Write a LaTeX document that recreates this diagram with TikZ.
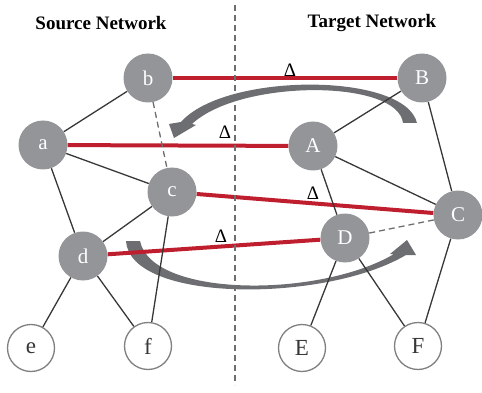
\documentclass[tikz,border=0pt]{standalone}
\usepackage{fontspec}
\setmainfont{Liberation Serif}
\usetikzlibrary{backgrounds}
\definecolor{nodegray}{RGB}{147,149,152}
\definecolor{arrowgray}{RGB}{109,110,113}
\definecolor{linkred}{RGB}{190,30,45}
\definecolor{edgeblack}{RGB}{55,55,55}
\definecolor{rimgray}{RGB}{128,128,128}

\begin{document}
\begin{tikzpicture}[x=1pt,y=-1pt,
inner/.style={circle, fill=nodegray, text=white, minimum size=49pt, inner sep=0pt,
    font=\fontsize{21}{21}\selectfont},
leaf/.style={circle, draw=rimgray, line width=1.3pt, fill=white, text=edgeblack,
    minimum size=47pt, inner sep=0pt, font=\fontsize{23}{23}\selectfont},
edge/.style={draw=edgeblack, line width=1.3pt},
weak/.style={draw=arrowgray, line width=1.3pt, dash pattern=on 6pt off 4pt},
match/.style={draw=linkred, line width=4pt},
delta/.style={font=\fontsize{19}{19}\selectfont, inner sep=0pt},
title/.style={font=\fontsize{19}{19}\selectfont\bfseries}]
\useasboundingbox (0,0) rectangle (482,393);

\node[title] (src) at (101,23) {Source Network};
\node[title] (tgt) at (372,23) {Target Network};
\coordinate (top) at (235,5);
\coordinate (bot) at (235,385);

\node[inner] (b) at (148,78) {b};
\node[inner] (a) at (43,145) {a};
\node[inner] (c) at (172,192) {c};
\node[inner] (d) at (83,256) {d};
\node[leaf] (e) at (31,348) {e};
\node[leaf] (f) at (148,346) {f};

\node[inner] (B) at (422,78) {B};
\node[inner] (A) at (313,146) {A};
\node[inner] (C) at (458,215) {C};
\node[inner] (D) at (345,238) {D};
\node[leaf] (E) at (302,348) {E};
\node[leaf] (F) at (418,346) {F};

\node[delta] (dB) at (290,70) {Δ};
\node[delta] (dA) at (225,132) {Δ};
\node[delta] (dC) at (313,193) {Δ};
\node[delta] (dD) at (221,236) {Δ};

\begin{scope}[on background layer]
\fill[arrowgray] (403,123) -- (417,123) .. controls (405,72) and (225,72) .. (181,122)
  -- (169,124) -- (174,138) -- (196,125) -- (192,124)
  .. controls (240,79) and (398,79) .. (403,123) -- cycle;
\fill[arrowgray] (126,241) -- (140,241) .. controls (152,298) and (320,298) .. (394,254)
  -- (390,254) -- (407,240) -- (416,255) -- (406,255)
  .. controls (325,303) and (130,303) .. (126,241) -- cycle;
\draw[match] (b) -- (B);
\draw[match] (a) -- (A);
\draw[match] (c) -- (C);
\draw[match] (d) -- (D);
\draw[weak] (top) -- (bot);
\draw[weak] (b) -- (c);
\draw[weak] (D) -- (C);
\draw[edge] (b) -- (a);
\draw[edge] (a) -- (c);
\draw[edge] (a) -- (d);
\draw[edge] (c) -- (d);
\draw[edge] (c) -- (f);
\draw[edge] (d) -- (e);
\draw[edge] (d) -- (f);
\draw[edge] (B) -- (A);
\draw[edge] (B) -- (C);
\draw[edge] (A) -- (C);
\draw[edge] (A) -- (D);
\draw[edge] (C) -- (F);
\draw[edge] (D) -- (E);
\draw[edge] (D) -- (F);
\end{scope}
\end{tikzpicture}
\end{document}
